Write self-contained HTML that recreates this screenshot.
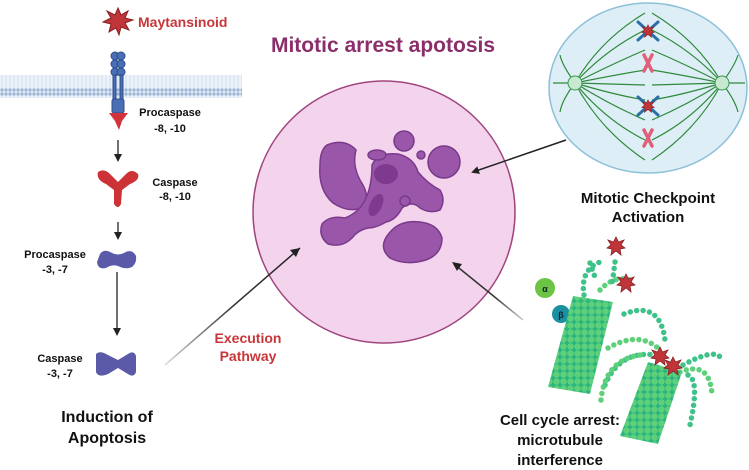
<!DOCTYPE html>
<html><head><meta charset="utf-8"><style>
body{margin:0;background:#fff}
svg{display:block}
text{font-family:"Liberation Sans",sans-serif;font-weight:bold}
</style></head><body>
<svg width="749" height="470" viewBox="0 0 749 470">
<defs>
<marker id="ah" markerWidth="8" markerHeight="8" refX="6" refY="4" orient="auto" markerUnits="userSpaceOnUse"><path d="M0,0 L8,4 L0,8 Z" fill="#222"/></marker>
<linearGradient id="g1" x1="165" y1="365" x2="300" y2="248" gradientUnits="userSpaceOnUse"><stop offset="0" stop-color="#ddd"/><stop offset=".5" stop-color="#333"/><stop offset="1" stop-color="#222"/></linearGradient>
<linearGradient id="g2" x1="523" y1="320" x2="452" y2="262" gradientUnits="userSpaceOnUse"><stop offset="0" stop-color="#ccc"/><stop offset=".4" stop-color="#333"/></linearGradient>
<pattern id="mt" width="7" height="7" patternUnits="userSpaceOnUse"><rect width="7" height="7" fill="#2bb57f"/><circle cx="3.5" cy="3.5" r="3.2" fill="#5fd07a"/></pattern>
<pattern id="mem" width="4" height="23" patternUnits="userSpaceOnUse"><rect width="4" height="23" fill="#eef3fa"/><circle cx="2" cy="2" r="1.7" fill="#9fb8d8"/><line x1="2" y1="4" x2="2" y2="19" stroke="#c6d5ea" stroke-width="0.8"/><circle cx="2" cy="21" r="1.7" fill="#9fb8d8"/></pattern>
<g id="star"><polygon points="0,-9 2.5,-4 8,-6 5,-1 9,2 4,3 5,9 0,5 -5,9 -4,3 -9,2 -5,-1 -8,-6 -2.5,-4" fill="#c0353a" stroke="#8a1f22" stroke-width="0.8"/></g>
</defs>

<!-- membrane -->
<rect x="0" y="75" width="242" height="23" fill="url(#mem)"/>
<!-- maytansinoid star -->
<polygon points="118,8 121,15 128,11 125,18 133,20 125,23 129,30 121,27 119,35 116,28 109,32 111,24 103,22 111,18 107,11 115,15" fill="#c0353a" stroke="#8a1f22" stroke-width="1"/>
<text x="138" y="27" font-size="14" fill="#c8363a">Maytansinoid</text>
<!-- receptor -->
<g fill="#4a6fb5" stroke="#2c4b8a" stroke-width="1">
<circle cx="115" cy="56" r="4"/><circle cx="121" cy="56" r="4"/>
<circle cx="115" cy="64" r="4"/><circle cx="121" cy="64" r="4"/>
<circle cx="115" cy="72" r="4"/><circle cx="121" cy="72" r="4"/>
<rect x="113" y="75" width="3" height="25"/><rect x="120" y="75" width="3" height="25"/>
<rect x="112" y="99" width="12" height="14" rx="2"/>
</g>
<path d="M109,113 L128,113 L122,121 L119,130 L115,121 Z" fill="#d2323a"/>
<text x="170" y="116" font-size="11" text-anchor="middle" fill="#111">Procaspase</text>
<text x="170" y="132" font-size="11" text-anchor="middle" fill="#111">-8, -10</text>
<line x1="118" y1="140" x2="118" y2="160" stroke="#222" stroke-width="1.3" marker-end="url(#ah)"/>
<!-- caspase 8 Y -->
<path d="M98,172 Q104,168 110,174 L118,182 L126,174 Q132,168 138,174 Q140,180 130,184 L122,190 L121,204 Q118,210 114,204 L114,190 L106,184 Q96,180 98,172 Z" fill="#cc3236"/>
<text x="175" y="186" font-size="11" text-anchor="middle" fill="#111">Caspase</text>
<text x="175" y="200" font-size="11" text-anchor="middle" fill="#111">-8, -10</text>
<line x1="118" y1="222" x2="118" y2="238" stroke="#222" stroke-width="1.3" marker-end="url(#ah)"/>
<!-- procaspase 3 -->
<path d="M100,254 Q104,248 112,253 Q118,256 124,253 Q132,248 136,256 Q137,263 132,267 Q126,270 118,266 Q112,264 106,268 Q98,270 97,262 Z" fill="#5a5aa8"/>
<text x="55" y="258" font-size="11" text-anchor="middle" fill="#111">Procaspase</text>
<text x="55" y="273" font-size="11" text-anchor="middle" fill="#111">-3, -7</text>
<line x1="117" y1="272" x2="117" y2="334" stroke="#222" stroke-width="1.3" marker-end="url(#ah)"/>
<!-- caspase 3 -->
<path d="M96,354 Q100,350 108,355 L118,360 L128,354 Q134,350 136,356 L136,372 Q134,378 128,374 L118,368 L108,374 Q98,378 96,372 Z" fill="#5a5aa8"/>
<text x="60" y="362" font-size="11" text-anchor="middle" fill="#111">Caspase</text>
<text x="60" y="377" font-size="11" text-anchor="middle" fill="#111">-3, -7</text>
<text x="107" y="422" font-size="16" text-anchor="middle" fill="#111">Induction of</text>
<text x="107" y="443" font-size="16" text-anchor="middle" fill="#111">Apoptosis</text>

<!-- title -->
<text x="383" y="52" font-size="21" text-anchor="middle" fill="#8b2f6b">Mitotic arrest apotosis</text>
<!-- big circle -->
<circle cx="384" cy="212" r="131" fill="#f4d4ec" stroke="#a0457e" stroke-width="1.5"/>
<!-- blobs -->
<g fill="#9a57aa" stroke="#7a3a8c" stroke-width="1.5">
<path d="M327,145 Q345,138 356,150 Q352,165 360,180 Q372,198 362,208 Q348,213 333,203 Q318,190 320,165 Q320,150 327,145 Z"/>
<path d="M372,165 Q378,152 398,154 Q414,158 418,172 Q428,184 440,190 Q446,200 440,210 Q430,214 420,208 Q412,200 402,208 Q396,220 386,222 Q376,228 368,228 Q358,230 352,238 Q342,248 328,244 Q318,236 322,224 Q330,215 345,218 Q360,212 366,198 Q372,185 372,165 Z"/>
<circle cx="444" cy="162" r="16"/>
<circle cx="404" cy="141" r="10"/>
<circle cx="421" cy="155" r="4"/>
<ellipse cx="377" cy="155" rx="9" ry="5"/>
<circle cx="405" cy="201" r="5"/>
<path d="M392,230 Q402,220 420,222 Q438,224 442,238 Q442,254 426,260 Q405,266 390,258 Q376,246 392,230 Z"/>
</g>
<ellipse cx="386" cy="174" rx="12" ry="10" fill="#7d3a8e"/>
<ellipse cx="376" cy="205" rx="6" ry="12" fill="#7d3a8e" transform="rotate(25 376 205)"/>
<!-- arrows -->
<line x1="165" y1="365" x2="300" y2="248" stroke="url(#g1)" stroke-width="1.5"/>
<path d="M300,248 L290,250 L296,257 Z" fill="#222"/>
<text x="248" y="343" font-size="14" text-anchor="middle" fill="#c8363a">Execution</text>
<text x="248" y="361" font-size="14" text-anchor="middle" fill="#c8363a">Pathway</text>
<line x1="566" y1="140" x2="473" y2="172" stroke="#222" stroke-width="1.5" marker-end="url(#ah)"/>
<line x1="523" y1="320" x2="454" y2="264" stroke="url(#g2)" stroke-width="1.5"/>
<path d="M452,262 L462,264 L457,271 Z" fill="#222"/>

<!-- spindle -->
<ellipse cx="648" cy="88" rx="99" ry="85" fill="#deeef6" stroke="#8cc0d8" stroke-width="1.5"/>
<g fill="none" stroke="#2e8a3a" stroke-width="1.2">
<path d="M575,83 Q600,40 645,13 M575,83 Q605,50 645,30 M575,83 Q610,65 645,50 M575,83 Q615,75 645,70 M575,83 L645,85 M575,83 Q615,95 645,100 M575,83 Q610,105 645,120 M575,83 Q605,120 645,140 M575,83 Q600,130 645,160"/>
<path d="M722,83 Q697,40 652,13 M722,83 Q692,50 652,30 M722,83 Q687,65 652,50 M722,83 Q682,75 652,70 M722,83 L652,85 M722,83 Q682,95 652,100 M722,83 Q687,105 652,120 M722,83 Q692,120 652,140 M722,83 Q697,130 652,160"/>
<path d="M575,83 L553,83 M575,83 Q562,65 560,55 M575,83 Q562,100 560,112 M722,83 L745,83 M722,83 Q735,65 738,55 M722,83 Q735,100 738,112"/>
</g>
<circle cx="575" cy="83" r="7" fill="#c8e8d0" stroke="#3a9a55"/>
<circle cx="722" cy="83" r="7" fill="#c8e8d0" stroke="#3a9a55"/>
<g stroke="#2b6fa8" stroke-width="3" stroke-linecap="round">
<path d="M638,22 L658,40 M658,22 L638,40 M638,97 L658,115 M658,97 L638,115"/>
</g>
<g stroke="#e0607a" stroke-width="3.5" stroke-linecap="round">
<path d="M644,55 L652,71 M652,55 L644,71 M644,130 L652,146 M652,130 L644,146"/>
</g>
<use href="#star" transform="translate(648,31) scale(0.7)"/><use href="#star" transform="translate(648,106) scale(0.7)"/>
<text x="648" y="203" font-size="15" text-anchor="middle" fill="#111">Mitotic Checkpoint</text>
<text x="648" y="222" font-size="15" text-anchor="middle" fill="#111">Activation</text>

<!-- microtubules -->
<circle cx="545" cy="288" r="10" fill="#6cc444"/><text x="545" y="292" font-size="9" text-anchor="middle" fill="#123">α</text>
<circle cx="561" cy="314" r="9" fill="#1b90a0"/><text x="561" y="318" font-size="9" text-anchor="middle" fill="#123">β</text>
<g fill="none" stroke-width="5.5" stroke-linecap="round" stroke-dasharray="0 6.5">
<path d="M624,314 Q660,300 665,340" stroke="#3fc28a"/>
<path d="M608,348 Q640,330 660,350" stroke="#5fd07a"/>
<path d="M605,385 Q620,350 655,355" stroke="#3fc28a"/>
<path d="M601,400 Q605,360 640,355" stroke="#5fd07a"/>
<path d="M683,365 Q720,345 722,362" stroke="#3fc28a"/>
<path d="M680,372 Q710,360 712,395" stroke="#5fd07a"/>
<path d="M688,375 Q700,380 690,425" stroke="#3fc28a"/>
<path d="M584,295 Q580,270 600,262" stroke="#3fc28a"/>
<path d="M600,290 Q614,275 630,280" stroke="#5fd07a"/>
<path d="M590,263 L596,280 M615,262 L612,285" stroke="#3fc28a"/>
</g>
<path d="M548,387 L573,296 L613,302 L590,394 Z" fill="url(#mt)"/>
<path d="M620,436 L648,362 L682,372 L658,444 Z" fill="url(#mt)"/>
<use href="#star" transform="translate(616,246)"/><use href="#star" transform="translate(626,283)"/>
<use href="#star" transform="translate(660,356)"/><use href="#star" transform="translate(673,366)"/>
<text x="560" y="425" font-size="15" text-anchor="middle" fill="#111">Cell cycle arrest:</text>
<text x="560" y="445" font-size="15" text-anchor="middle" fill="#111">microtubule</text>
<text x="560" y="465" font-size="15" text-anchor="middle" fill="#111">interference</text>
</svg>
</body></html>
